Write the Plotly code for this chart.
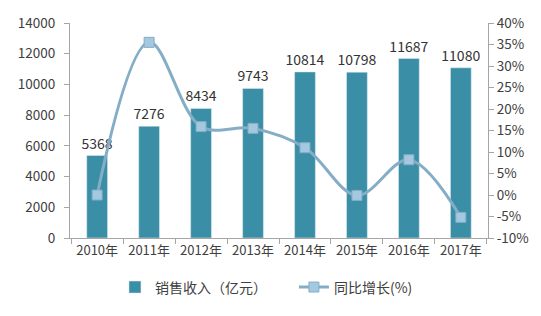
import plotly.graph_objects as go

years = ["2010年", "2011年", "2012年", "2013年", "2014年", "2015年", "2016年", "2017年"]
revenue = [5368, 7276, 8434, 9743, 10814, 10798, 11687, 11080]
growth = [0.0, 35.5, 15.9, 15.5, 11.0, -0.1, 8.2, -5.2]
left_ticks = [0, 2000, 4000, 6000, 8000, 10000, 12000, 14000]
right_ticks = [-10, -5, 0, 5, 10, 15, 20, 25, 30, 35, 40]

font_family = "Noto Sans CJK SC, Noto Sans, sans-serif"
axis_color = "#a6a6a6"
text_color = "#404040"

fig = go.Figure()
fig.add_trace(go.Bar(
    x=years, y=revenue, name="销售收入（亿元）" + "\u00a0" * 7,
    marker=dict(color="#3a8ea6"),
    text=[str(v) for v in revenue], textposition="outside",
    textfont=dict(size=14, color="#333333", family=font_family),
    constraintext="none",
    cliponaxis=False,
))
fig.add_trace(go.Scatter(
    x=years, y=growth, name="同比增长(%)", yaxis="y2",
    mode="lines+markers",
    line=dict(color="#84adc6", width=3, shape="spline", smoothing=1.0),
    marker=dict(symbol="square", size=10, color="#a3c8df",
                line=dict(color="#84adc6", width=1)),
    cliponaxis=False,
))

fig.update_layout(
    width=541, height=316,
    margin=dict(l=70, r=49, t=15, b=68),
    paper_bgcolor="white", plot_bgcolor="white",
    font=dict(family=font_family, size=13, color=text_color),
    bargap=0.6,
    showlegend=True,
    legend=dict(orientation="h", x=0.47, xanchor="center", y=-0.23, yanchor="middle",
                font=dict(size=14, color=text_color), itemwidth=30,
                traceorder="normal"),
    xaxis=dict(showline=True, linecolor=axis_color, linewidth=1,
               ticks="outside", tickson="boundaries", ticklen=5, tickcolor=axis_color,
               tickangle=0,
               tickfont=dict(size=13, color=text_color), showgrid=False),
    yaxis=dict(range=[0, 14000], tickvals=left_ticks, ticktext=[str(v) for v in left_ticks],
               showline=True, linecolor=axis_color,
               ticks="outside", ticklen=5, tickcolor=axis_color, showgrid=False,
               ticklabelstandoff=6,
               zeroline=False, tickfont=dict(size=13.5, color=text_color)),
    yaxis2=dict(range=[-10, 40], tickvals=right_ticks,
                ticktext=[f"{v}%" for v in right_ticks],
                overlaying="y", side="right", showline=True, linecolor=axis_color,
                ticks="outside", ticklen=5, tickcolor=axis_color, showgrid=False,
                zeroline=False, tickfont=dict(size=13.5, color=text_color)),
)

fig.write_html("out.html")
